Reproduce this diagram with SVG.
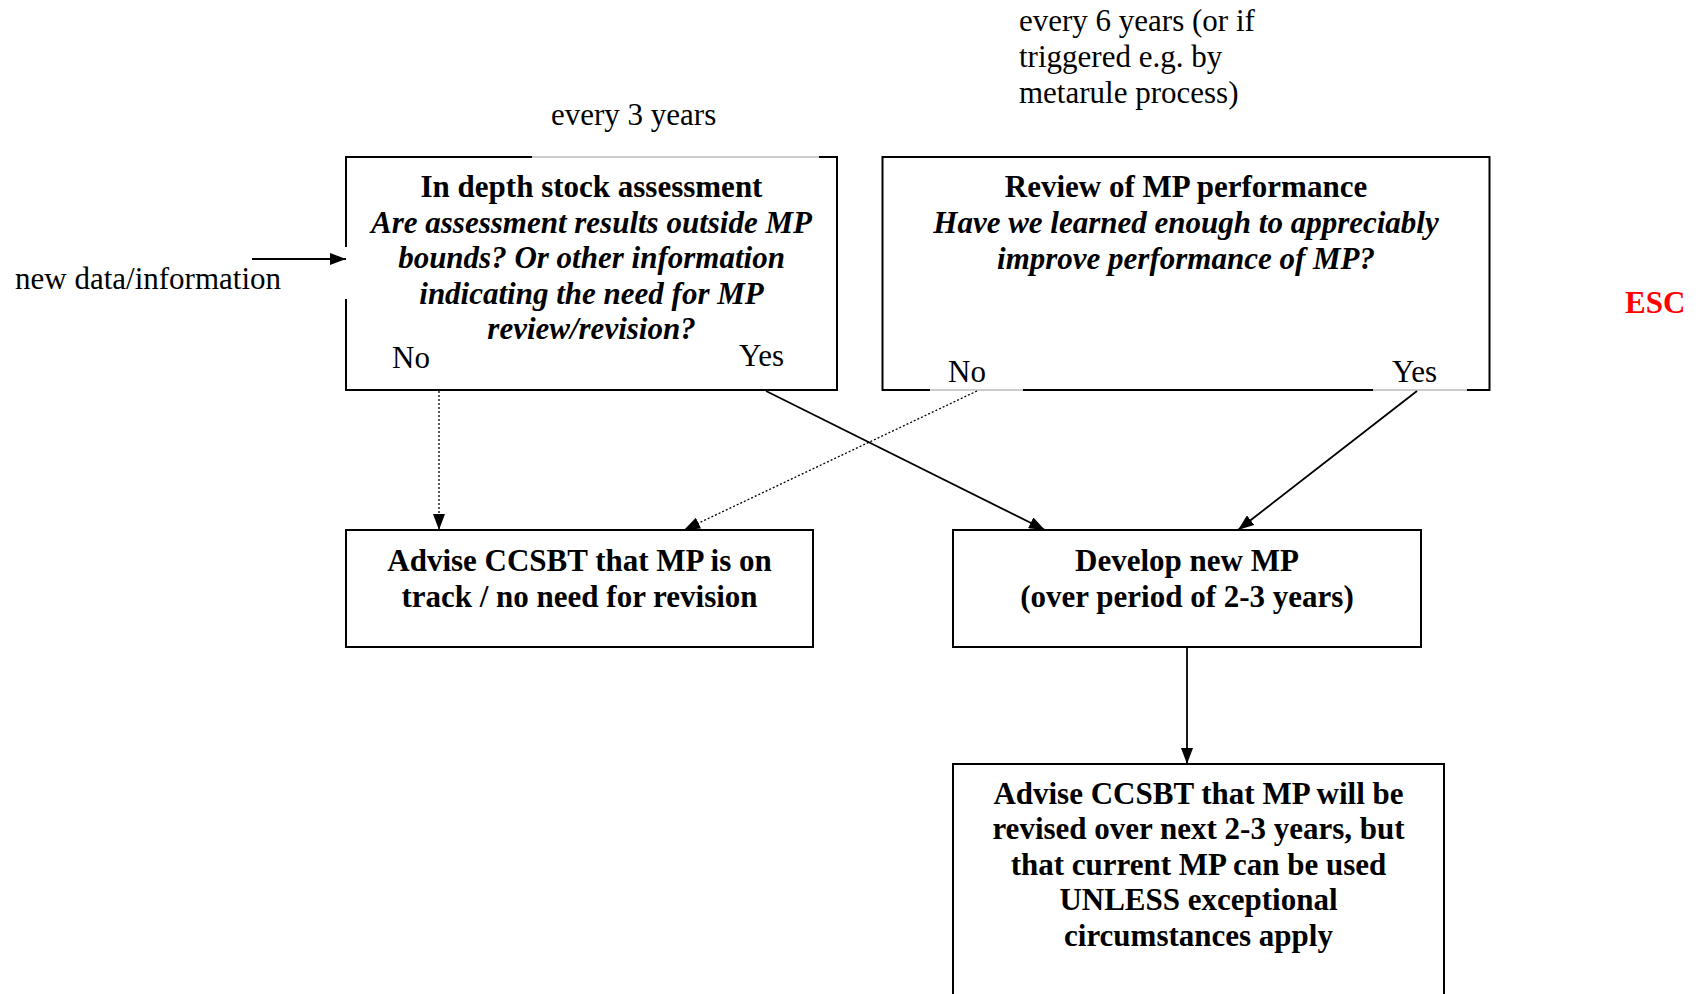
<svg xmlns="http://www.w3.org/2000/svg" width="1700" height="994" viewBox="0 0 1700 994">
<style>
  .bg { fill: #ffffff; }
  .box { fill: #ffffff; stroke: #000000; stroke-width: 2; }
  .faint { stroke: #999999; stroke-width: 1; fill: none; }
  .gap { fill: #ffffff; stroke: none; }
  text { font-family: "Liberation Serif", "Times New Roman", serif; font-size: 31px; fill: #000000; }
  .b { font-weight: bold; }
  .i { font-style: italic; font-weight: bold; }
  .c { text-anchor: middle; }
  .esc { fill: #ff0000; font-weight: bold; }
  .solid { stroke: #000000; stroke-width: 1.8; fill: none; }
  .dot { stroke: #000000; stroke-width: 1.3; fill: none; stroke-dasharray: 2 2; }
</style>
<defs>
  <marker id="ah" markerUnits="userSpaceOnUse" markerWidth="16" markerHeight="12" refX="16" refY="6" orient="auto">
    <path d="M0,0 L16,6 L0,12 z" fill="#000000"/>
  </marker>
</defs>
<rect class="bg" x="0" y="0" width="1700" height="994"/>

<g id="labels">
  <text x="551" y="125">every 3 years</text>
  <text x="1019" y="31">every 6 years (or if</text>
  <text x="1019" y="67">triggered e.g. by</text>
  <text x="1019" y="102.5">metarule process)</text>
  <text x="15" y="288.5">new data/information</text>
  <text class="esc" x="1625" y="313">ESC</text>
</g>

<g id="node-assessment">
  <rect class="box" x="346" y="157" width="491" height="233"/>
  <rect class="gap" x="532" y="155" width="287" height="4"/>
  <line class="faint" x1="532" y1="157" x2="819" y2="157"/>
  <rect class="gap" x="344" y="247" width="4" height="52"/>
  <text class="b c" x="591.5" y="196.5">In depth stock assessment</text>
  <text class="i c" x="591.5" y="232.5">Are assessment results outside MP</text>
  <text class="i c" x="591.5" y="268">bounds? Or other information</text>
  <text class="i c" x="591.5" y="303.5">indicating the need for MP</text>
  <text class="i c" x="591.5" y="339">review/revision?</text>
  <text x="392" y="368">No</text>
  <text x="739" y="366">Yes</text>
</g>

<g id="node-review">
  <rect class="box" x="882.5" y="157" width="607" height="233"/>
  <rect class="gap" x="930" y="388" width="93" height="4"/>
  <rect class="gap" x="1373" y="388" width="94" height="4"/>
  <line class="faint" x1="930" y1="390" x2="1023" y2="390"/>
  <line class="faint" x1="1373" y1="390" x2="1467" y2="390"/>
  <text class="b c" x="1186" y="197">Review of MP performance</text>
  <text class="i c" x="1186" y="233">Have we learned enough to appreciably</text>
  <text class="i c" x="1186" y="268.5">improve performance of MP?</text>
  <text x="948" y="382">No</text>
  <text x="1392" y="382">Yes</text>
</g>

<g id="node-ontrack">
  <rect class="box" x="346" y="530" width="467" height="117"/>
  <text class="b c" x="579.5" y="570.5">Advise CCSBT that MP is on</text>
  <text class="b c" x="579.5" y="606.5">track / no need for revision</text>
</g>

<g id="node-develop">
  <rect class="box" x="953" y="530" width="468" height="117"/>
  <text class="b c" x="1187" y="570.5">Develop new MP</text>
  <text class="b c" x="1187" y="606.5">(over period of 2-3 years)</text>
</g>

<g id="node-advise-revise">
  <rect class="box" x="953" y="764" width="491" height="240"/>
  <text class="b c" x="1198.5" y="803.5">Advise CCSBT that MP will be</text>
  <text class="b c" x="1198.5" y="839">revised over next 2-3 years, but</text>
  <text class="b c" x="1198.5" y="874.5">that current MP can be used</text>
  <text class="b c" x="1198.5" y="910">UNLESS exceptional</text>
  <text class="b c" x="1198.5" y="945.5">circumstances apply</text>
</g>

<g id="connectors">
  <line class="solid" x1="252" y1="259" x2="346" y2="259" marker-end="url(#ah)"/>
  <line class="dot" x1="439" y1="391" x2="439" y2="530" marker-end="url(#ah)"/>
  <line class="solid" x1="766" y1="391" x2="1045" y2="530" marker-end="url(#ah)"/>
  <line class="dot" x1="977" y1="391" x2="684" y2="530" marker-end="url(#ah)"/>
  <line class="solid" x1="1417" y1="391" x2="1238" y2="530" marker-end="url(#ah)"/>
  <line class="solid" x1="1187" y1="647" x2="1187" y2="764" marker-end="url(#ah)"/>
</g>
</svg>
